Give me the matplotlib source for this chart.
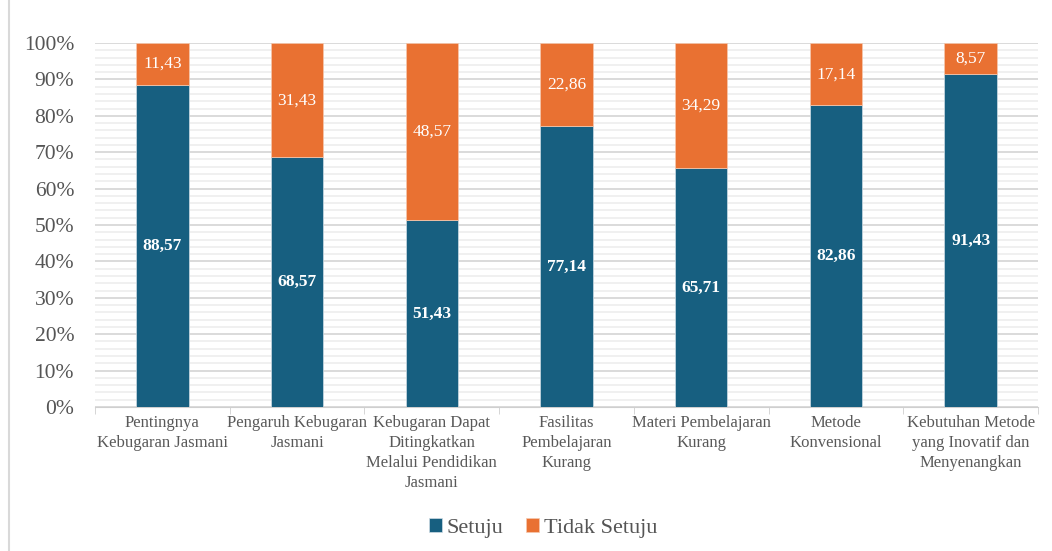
import matplotlib.pyplot as plt
import numpy as np
from matplotlib.ticker import MultipleLocator, FuncFormatter
from matplotlib.lines import Line2D

plt.rcParams['font.family'] = ['Liberation Serif', 'DejaVu Serif']

categories = ['Pentingnya\nKebugaran Jasmani',
              'Pengaruh Kebugaran\nJasmani',
              'Kebugaran Dapat\nDitingkatkan\nMelalui Pendidikan\nJasmani',
              'Fasilitas\nPembelajaran\nKurang',
              'Materi Pembelajaran\nKurang',
              'Metode\nKonvensional',
              'Kebutuhan Metode\nyang Inovatif dan\nMenyenangkan']
setuju = [88.57, 68.57, 51.43, 77.14, 65.71, 82.86, 91.43]
tidak_setuju = [11.43, 31.43, 48.57, 22.86, 34.29, 17.14, 8.57]

blue = '#175f80'
orange = '#e97132'

fig = plt.figure(figsize=(10.52, 5.51), dpi=100)
ax = fig.add_axes([95 / 1052, 1 - 407 / 551, (1038 - 95) / 1052, (407 - 43) / 551])

x = np.arange(len(categories))
w = 0.39
ax.bar(x, setuju, w, color=blue, edgecolor='#d0dde5', linewidth=0.5, zorder=3, label='Setuju')
ax.bar(x, tidak_setuju, w, bottom=setuju, color=orange, edgecolor='#f5c9b0', linewidth=0.5,
       zorder=3, label='Tidak Setuju')

for xi, s, t in zip(x, setuju, tidak_setuju):
    ax.text(xi, s / 2, f'{s:.2f}'.replace('.', ','), ha='center', va='center',
            color='white', fontsize=12.5, fontweight='bold', zorder=4)
    ax.text(xi, s + t / 2, f'{t:.2f}'.replace('.', ','), ha='center', va='center',
            color='white', fontsize=12.5, zorder=4)

ax.set_xlim(-0.5, len(categories) - 0.5)
ax.set_ylim(0, 100)
ax.yaxis.set_major_locator(MultipleLocator(10))
ax.yaxis.set_minor_locator(MultipleLocator(2))
ax.yaxis.set_major_formatter(FuncFormatter(lambda v, p: f'{int(v)}%'))
ax.grid(axis='y', which='major', color='#d4d4d4', linewidth=1.2, zorder=0)
ax.grid(axis='y', which='minor', color='#ededed', linewidth=1.2, zorder=0)
ax.tick_params(axis='y', which='both', length=0, labelsize=15.5, labelcolor='#555555', pad=15)

ax.set_xticks(x)
ax.set_xticklabels(categories, fontsize=12, color='#595959', linespacing=1.33)
ax.set_xticks(np.arange(-0.5, len(categories)), minor=True)
ax.tick_params(axis='x', which='major', length=0, pad=6)
ax.tick_params(axis='x', which='minor', length=5, color='#cfcfcf')

for side in ['top', 'right', 'left']:
    ax.spines[side].set_visible(False)
ax.spines['bottom'].set_color('#cfcfcf')

ax.legend(loc='lower center', bbox_to_anchor=(0.475, -0.415), ncol=2, frameon=False,
          fontsize=16, handlelength=0.6, handleheight=0.6, handletextpad=0.2,
          columnspacing=1.0, labelcolor='#555555')

# chart frame on the left edge
fig.add_artist(Line2D([9 / 1052, 9 / 1052], [0, 1], color='#d9d9d9', linewidth=1.5))

fig.savefig('out.png', dpi=100)
